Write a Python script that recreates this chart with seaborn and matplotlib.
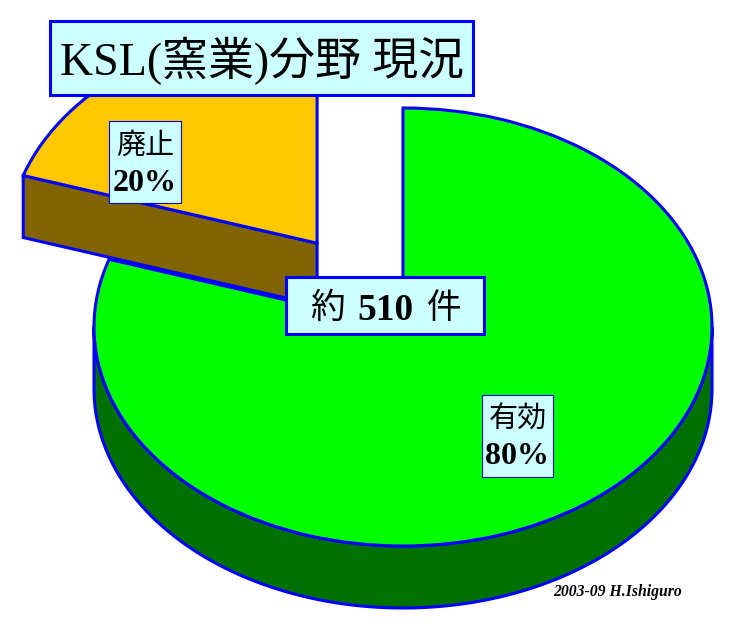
import numpy as np
import matplotlib
matplotlib.use('Agg')
import matplotlib.pyplot as plt
import seaborn as sns

# chart values
labels = ['有効', '廃止']
shares = [80, 20]
total_parts = ['約', '510', '件']
title_text = 'KSL(窯業)分野 現況'
credit_text = '2003-09 H.Ishiguro'

top_colors = ['#00ff00', '#ffc800']
side_colors = ['#007000', '#806400']
EDGE = '#0000ff'
BOX = '#ccffff'

sns.set_theme(style='white')
plt.rcParams['font.family'] = ['Liberation Serif', 'Noto Sans CJK JP']

W, H = 733, 631
# pie centre and radii in pixels
CX, CY, RX, RY = 403, 327, 309, 219
DEPTH = 62 / RY
EXPLODE = 0.473

fig = plt.figure(figsize=(W / 100, H / 100), dpi=100, facecolor='white')
ax = fig.add_axes([0, 0, 1, 1])


def px(x, y):
    return (x - CX) / RX, (CY - y) / RY


# angles clockwise from 12 o'clock, in degrees
ends = np.cumsum(shares) / np.sum(shares) * 360
starts = ends - np.array(shares) / np.sum(shares) * 360
mids = np.radians((starts + ends) / 2)
offsets = [(0, 0), (EXPLODE * np.sin(mids[1]), EXPLODE * np.cos(mids[1]))]


def wall(points, face, z):
    # extrude a path downward by the pie depth
    pts = np.array(points)
    low = pts - [0, DEPTH]
    poly = np.vstack([pts, low[::-1]])
    ax.fill(poly[:, 0], poly[:, 1], facecolor=face, edgecolor=EDGE, lw=2.2, zorder=z, joinstyle='miter')


# green slice rim
t = np.radians(np.linspace(max(starts[0], 90), 270, 200))
wall(np.c_[np.sin(t), np.cos(t)], side_colors[0], 1)

# exploded slice: cut face on the lower left side, then the top surface
ox, oy = offsets[1]
t0 = np.radians(ends[0])
wall([(ox, oy), (ox + np.sin(t0), oy + np.cos(t0))], side_colors[1], 4)

wedges, _ = ax.pie(shares, explode=[0, EXPLODE], startangle=90, counterclock=False,
                   colors=top_colors, radius=1, center=(0, 0),
                   wedgeprops={'edgecolor': EDGE, 'linewidth': 2.2, 'joinstyle': 'miter'})
wedges[0].set_zorder(2)
wedges[1].set_zorder(5)

ax.set_aspect('auto')
ax.set_xlim(-CX / RX, (W - CX) / RX)
ax.set_ylim((CY - H) / RY, CY / RY)
ax.axis('off')


def box(x, y, w, h, lw):
    bx, by = px(x, y)
    bx2, by2 = px(x + w, y + h)
    ax.fill([bx, bx2, bx2, bx], [by, by, by2, by2], facecolor=BOX, edgecolor=EDGE, lw=lw, zorder=6, joinstyle='miter')


def label(x, y, s, size, weight='normal', style='normal'):
    tx, ty = px(x, y)
    ax.text(tx, ty, s, ha='center', va='center', fontsize=size, fontweight=weight, fontstyle=style,
            color='black', zorder=7)


box(50, 21, 423, 74, 2.2)
label(262, 61, title_text, 33)

box(286, 277, 198, 57, 2.2)
label(328, 309, total_parts[0], 25)
label(385, 310, total_parts[1], 27, 'bold')
label(444, 309, total_parts[2], 25)

box(109, 121, 72, 82, 0.8)
label(145, 146, labels[1], 21)
label(145, 183, str(shares[1]) + '%', 23, 'bold')

box(482, 395, 71, 82, 0.8)
label(518, 420, labels[0], 21)
label(517, 456, str(shares[0]) + '%', 23, 'bold')

label(618, 592, credit_text, 11.3, 'bold', 'italic')

fig.savefig('out.png', dpi=100)
